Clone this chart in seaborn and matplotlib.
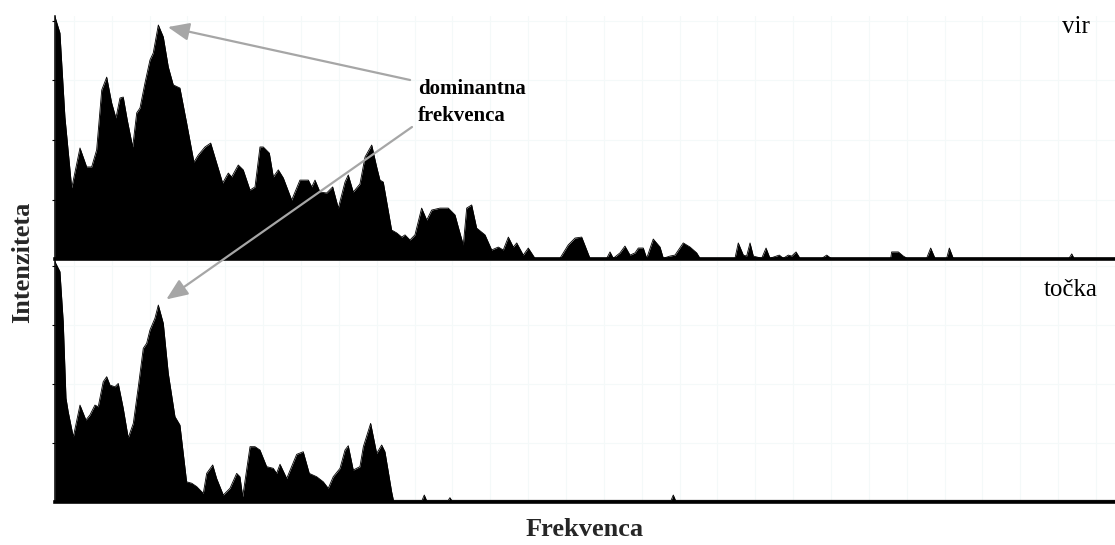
import numpy as np
import pandas as pd
import matplotlib
matplotlib.use("Agg")
import matplotlib.pyplot as plt
import seaborn as sns

# ---- data ----
vir_freq = [0, 4.7, 9.4, 15.8, 23.6, 29.9, 34.6, 39.3, 44.1, 48.8, 53.5, 57.5, 61.3, 64.4, 68.2,
            73.3, 77.1, 80.2, 84.9, 89.6, 92.7, 97.5, 102.2, 106.9, 111.6, 117.9, 124.2, 131.1,
            135.2, 141.5, 146.9, 152.5, 158.2, 163.5, 166.7, 172.9, 177.6, 184.0, 188.7, 193.4,
            196.5, 202.2, 206.0, 210.7, 215.4, 223.3, 231.1, 239.0, 242.2, 245.3, 250.0, 256.3,
            262.0, 267.3, 273.6, 276.7, 281.4, 287.7, 292.5, 298.8, 303.5, 306.6, 309.7, 317.6,
            322.4, 327.1, 330.2, 334.9, 339.6, 345.9, 350.7, 355.4, 363.2, 371.0, 377.4, 380.5,
            385.2, 388.4, 393.1, 397.8, 405.7, 412.0, 418.2, 422.9, 427.7, 432.4, 435.6, 441.8,
            446.5, 452.8, 476.4, 484.2, 490.6, 496.9, 504.7, 520.5, 523.6, 526.7, 533.0, 537.7,
            542.5, 547.2, 550.3, 555.0, 558.2, 564.4, 570.8, 573.9, 580.2, 584.9, 592.7, 599.1,
            605.4, 608.5, 641.5, 644.6, 649.4, 652.5, 655.7, 658.8, 666.7, 670.8, 674.5, 683.3,
            687.1, 691.8, 695.0, 699.1, 702.8, 723.6, 728.0, 732.1, 788.4, 789.3, 795.6, 800.3,
            803.8, 822.3, 826.1, 830.2, 841.2, 843.7, 847.4, 956.6, 959.2, 961.3, 1000]
vir_int = [99.7, 93.0, 58.5, 29.4, 45.8, 38.0, 38.0, 45.0, 69.6, 74.9, 64.3, 58.1, 66.3, 66.7, 57.3,
           46.2, 60.2, 62.2, 72.5, 81.9, 84.8, 96.3, 91.4, 79.1, 71.7, 70.4, 56.1, 40.0,
           42.9, 46.2, 47.8, 39.6, 31.4, 35.5, 33.9, 38.8, 36.8, 28.5, 29.8, 46.2,
           46.2, 43.7, 33.9, 36.8, 33.5, 24.4, 32.6, 32.6, 29.8, 32.6, 27.7, 27.3,
           29.8, 21.1, 31.8, 34.7, 27.7, 31.0, 42.1, 47.0, 38.0, 32.6, 31.8, 12.1,
           10.9, 9.2, 10.1, 8.0, 10.1, 21.1, 16.2, 20.3, 21.1, 21.1, 18.3, 13.3,
           6.0, 21.1, 22.4, 12.9, 10.1, 3.9, 5.1, 3.9, 9.2, 5.1, 6.8, 1.8,
           4.7, 0.5, 0.5, 6.0, 8.8, 9.2, 0.5, 0.5, 3.1, 0.5, 2.7, 5.5,
           1.8, 2.7, 4.7, 4.7, 0.5, 8.4, 5.1, 0.5, 1.4, 1.8, 6.8, 5.1,
           2.7, 0.5, 0.5, 6.8, 1.8, 1.4, 6.8, 1.4, 0.5, 4.7, 0.5, 1.8,
           0.5, 1.8, 1.4, 3.1, 0.5, 0.5, 1.8, 0.5, 0.5, 3.1, 3.1, 1.4,
           0.5, 0.5, 4.7, 0.5, 0.5, 4.7, 0.5, 0.5, 2.3, 0.5, 0.5]

tocka_freq = [0, 4.7, 7.8, 10.4, 12.5, 17.3, 23.6, 29.2, 33.0, 37.7, 40.8, 45.5, 48.8, 51.9, 56.6,
              59.7, 64.4, 69.1, 73.9, 78.6, 83.3, 86.5, 89.6, 94.3, 97.5, 102.2, 106.9, 113.2,
              117.9, 124.2, 129.0, 133.7, 139.9, 143.1, 148.8, 152.5, 158.8, 165.1, 171.4, 174.5,
              177.1, 184.0, 188.7, 193.4, 199.7, 205.9, 209.1, 212.3, 218.6, 228.0, 234.2, 239.9,
              246.9, 253.1, 257.8, 262.5, 268.9, 273.6, 276.7, 281.4, 287.7, 290.9, 297.8, 303.5,
              308.2, 311.3, 317.6, 319.3, 346.3, 348.4, 350.5, 371.0, 372.6, 374.2, 581.2, 583.3,
              585.4, 1000]
tocka_int = [99.7, 95.6, 74.8, 43.0, 37.3, 26.9, 40.1, 33.9, 36.0, 40.1, 39.4, 49.8, 51.9, 48.4, 47.7,
             49.1, 38.8, 26.5, 32.5, 47.7, 63.7, 65.8, 71.3, 76.2, 81.7, 74.1, 53.3, 35.3,
             31.8, 8.2, 7.6, 6.2, 3.4, 11.7, 15.2, 9.6, 2.7, 5.5, 11.7, 10.3,
             2.0, 22.8, 22.8, 21.4, 14.5, 13.8, 11.7, 15.5, 9.6, 19.6, 20.7, 11.7,
             10.3, 8.2, 5.5, 10.3, 13.8, 21.4, 23.2, 13.1, 14.5, 22.8, 32.5, 20.0,
             23.5, 20.7, 4.1, 0.5, 0.5, 2.7, 0.5, 0.5, 1.6, 0.5, 0.5, 2.7,
             0.5, 0.5]

panel_labels = ["vir", "točka"]
annot_text = "dominantna\nfrekvenca"
x_label = "Frekvenca"
y_label = "Intenziteta"

# ---- style ----
sns.set_style("white")
plt.rcParams["font.family"] = ["Liberation Serif", "DejaVu Serif"]

fig = plt.figure(figsize=(11.15, 5.45), dpi=100)
ax1 = fig.add_axes([0.0493, 0.5239, 0.9507, 0.4468])
ax2 = fig.add_axes([0.0493, 0.0798, 0.9507, 0.4413])

grid_x = (np.arange(28) + 0.5) * 1000 / 28
grid_y = [24.5, 49, 73.5, 98]

panels = [(ax1, vir_freq, vir_int, panel_labels[0], 0.976, 0.930),
          (ax2, tocka_freq, tocka_int, panel_labels[1], 0.984, 0.856)]

for ax, f, v, lab, lx, ly in panels:
    df = pd.DataFrame({"f": f, "v": v})
    ax.fill_between(df["f"], df["v"], 0, color="black", lw=0, zorder=2)
    sns.lineplot(data=df, x="f", y="v", color="black", lw=0.6, ax=ax, zorder=3)
    ax.set_xlim(0, 1000)
    ax.set_ylim(0, 100)
    ax.set_xticks(grid_x)
    ax.set_yticks(grid_y)
    ax.grid(True, color="#f4f9f9", lw=0.8)
    ax.set_axisbelow(True)
    ax.tick_params(axis="x", length=0, labelbottom=False)
    ax.tick_params(axis="y", left=True, length=2.5, width=0.8, color="black",
                   direction="out", labelleft=False)
    for s in ["top", "right"]:
        ax.spines[s].set_visible(False)
    ax.spines["left"].set_color("black")
    ax.spines["left"].set_linewidth(1.1)
    ax.spines["bottom"].set_color("black")
    ax.spines["bottom"].set_linewidth(2.6)
    ax.set_xlabel("")
    ax.set_ylabel("")
    ax.text(lx, ly, lab, transform=ax.transAxes, ha="right", va="baseline",
            fontsize=18, color="black")

# annotation text
ax1.text(0.3425, 0.741, annot_text, transform=ax1.transAxes, ha="left", va="top",
         fontsize=15, fontweight="bold", linespacing=1.45, color="black")

# dominant peaks (skip the DC edge)
def peak(freq, vals):
    fr = np.asarray(freq)
    va = np.asarray(vals)
    m = fr > 40
    i = np.argmax(np.where(m, va, -1))
    return fr[i], va[i]

p1 = peak(vir_freq, vir_int)
p2 = peak(tocka_freq, tocka_int)

arrow_kw = dict(arrowstyle="-|>,head_length=0.65,head_width=0.27", color="#a6a6a6",
                lw=1.6, shrinkA=0, shrinkB=7, mutation_scale=20)
ax2.annotate("", xy=p1, xycoords=ax1.transData, xytext=(0.335, 0.737),
             textcoords=ax1.transAxes, arrowprops=arrow_kw, annotation_clip=False)
ax2.annotate("", xy=p2, xycoords=ax2.transData, xytext=(0.3368, 0.544),
             textcoords=ax1.transAxes, arrowprops=arrow_kw, annotation_clip=False)

ax2.set_xlabel(x_label, fontsize=19, fontweight="bold", labelpad=12)
fig.text(0.0202, 0.519, y_label, rotation=90, ha="center", va="center",
         fontsize=19, fontweight="bold")

fig.savefig("out.png", dpi=100)
